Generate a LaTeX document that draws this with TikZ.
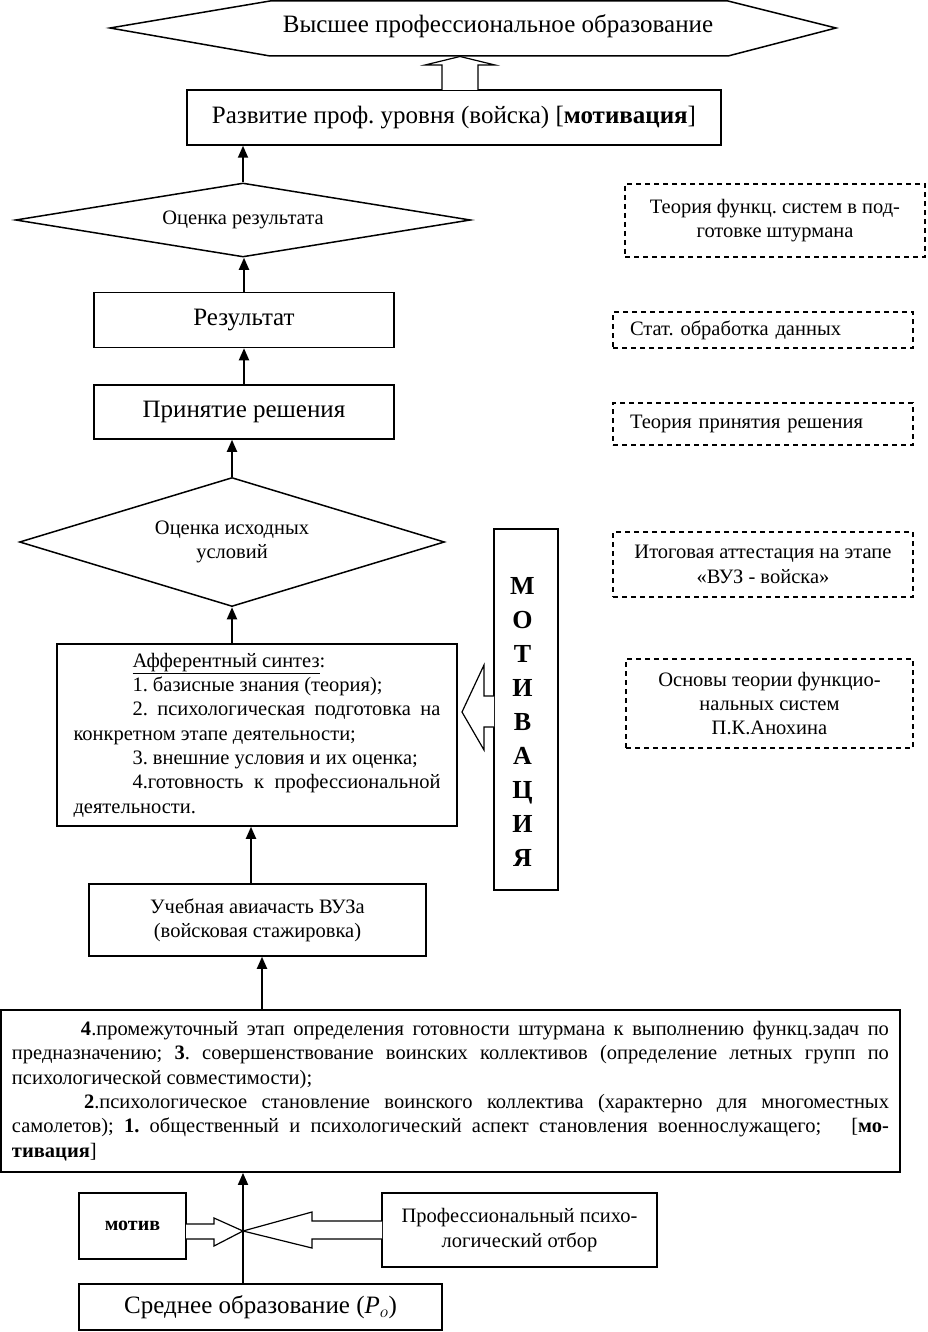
\documentclass[tikz,border=0pt]{standalone}
\usepackage{fontspec}
\setmainfont{Liberation Serif}
\usetikzlibrary{arrows.meta,shapes.geometric}
\frenchspacing
\begin{document}
\begin{tikzpicture}[x=1pt,y=-1pt,
  box/.style={draw,line width=1.5pt,inner sep=0pt,anchor=center},
  dbox/.style={draw,dash pattern=on 5pt off 4pt,line width=1.3pt,inner sep=0pt},
  dmd/.style={diamond,draw,line width=1.5pt,inner sep=0pt},
  arr/.style={line width=1.8pt,-{Triangle[length=12pt,width=10pt]}},
  hollow/.style={draw,line width=1.2pt,fill=white,line join=miter},
  bigf/.style={font=\fontsize{25}{29}\selectfont},
  midf/.style={font=\fontsize{20.5}{24.3}\selectfont},
]
\useasboundingbox (0,0) rectangle (927,1332);
% top hexagon
\draw[line width=1.5pt] (110,28) -- (270,1) -- (728,1) -- (836,28) -- (728,56) -- (270,56) -- cycle;
\node[bigf,inner sep=0pt] (hex) at (498,26) {Высшее профессиональное образование};
\node[box,bigf,minimum width=534pt,minimum height=55pt] (dev) at (454,117.5) {Развитие проф. уровня (войска) [\textbf{мотивация}]};
\draw[hollow] (442,90) -- (442,65) -- (425,65) -- (460,56.5) -- (495,65) -- (478,65) -- (478,90);
% diamonds and boxes
\node[dmd,midf,aspect=6.1,minimum width=455pt,minimum height=74pt] (d1) at (243,220) {Оценка результата};
\node[box,bigf,minimum width=300pt,minimum height=55pt] (res) at (244,320) {Результат};
\node[box,bigf,minimum width=300pt,minimum height=54pt] (prin) at (244,412) {Принятие решения};
\node[dmd,midf,align=center,aspect=3.3,minimum width=425pt,minimum height=129pt] (d2) at (232,542) {Оценка исходных\\условий};
\node[box,midf,align=left,minimum width=400pt,minimum height=182pt] (aff) at (257,735) {%
\hspace*{59pt}\underline{Афферентный синтез}:\\
\hspace*{59pt}1. базисные знания (теория);\\
\hspace*{59pt}\makebox[308pt][s]{2. психологическая подготовка на}\\
конкретном этапе деятельности;\\
\hspace*{59pt}3. внешние условия и их оценка;\\
\hspace*{59pt}\makebox[308pt][s]{4.готовность к профессиональной}\\
деятельности.};
\node[box,line width=1.8pt,minimum width=64pt,minimum height=361pt] (mot) at (526,709.5) {};
\node[font=\fontsize{26}{34.1}\selectfont\bfseries,align=center,inner sep=0pt] (motl) at (522.5,722) {М\\О\\Т\\И\\В\\А\\Ц\\И\\Я};
\draw[hollow] (494,696) -- (484,696) -- (484,665) -- (462,712) -- (484,750) -- (484,727) -- (494,727);
\node[box,midf,align=center,minimum width=337pt,minimum height=72pt] (ucheb) at (257.5,920) {Учебная авиачасть ВУЗа\\(войсковая стажировка)};
\node[box,line width=1.8pt,midf,align=left,minimum width=899pt,minimum height=162pt] (bigb) at (450.5,1091) {%
\hspace*{69pt}\makebox[808pt][s]{\textbf{4}.промежуточный этап определения готовности штурмана к выполнению функц.задач по}\\
\makebox[877pt][s]{предназначению; \textbf{3}. совершенствование воинских коллективов (определение летных групп по}\\
психологической совместимости);\\
\hspace*{72pt}\makebox[805pt][s]{\textbf{2}.психологическое становление воинского коллектива (характерно для многоместных}\\
\makebox[877pt][s]{самолетов); \textbf{1.} общественный и психологический аспект становления военнослужащего;\hspace{20pt} [\textbf{мо-}}\\
\textbf{тивация}]};
% bottom
\node[box,minimum width=107pt,minimum height=66pt,font=\fontsize{20}{22}\selectfont\bfseries] (motiv) at (132.5,1226) {мотив};
\node[box,midf,align=center,minimum width=275pt,minimum height=74pt] (prof) at (519.5,1230) {Профессиональный психо-\\логический отбор};
\node[box,bigf,minimum width=363pt,minimum height=46pt] (sred) at (260.5,1307) {Среднее образование (\textit{P}$_{o}$)};
\draw[hollow] (186,1224) -- (214,1224) -- (214,1218) -- (243,1231) -- (214,1246) -- (214,1239) -- (186,1239);
\draw[hollow] (382,1221) -- (312,1221) -- (312,1212) -- (243,1231) -- (312,1248) -- (312,1239) -- (382,1239);
% dashed boxes
\node[dbox,midf,align=center,minimum width=300pt,minimum height=73pt] (t1) at (775,220.5) {Теория функц. систем в под-\\готовке штурмана};
\node[dbox,midf,align=left,text width=266pt,inner xsep=17pt,minimum height=36pt] (t2) at (763,330) {Стат. обработка данных};
\node[dbox,midf,align=left,text width=266pt,inner xsep=17pt,minimum height=42pt] (t3) at (763,424) {Теория принятия решения};
\node[dbox,midf,align=center,minimum width=300pt,minimum height=65pt] (t4) at (763,564.5) {Итоговая аттестация на этапе\\«ВУЗ - войска»};
\node[dbox,midf,align=center,minimum width=287pt,minimum height=89pt] (t5) at (769.5,703.5) {Основы теории функцио-\\нальных систем\\П.К.Анохина};
% connectors
\coordinate (k1) at (251,0);
\coordinate (k2) at (262,0);
\coordinate (k3) at (243,0);
\draw[arr] (d1.north) -- (d1.north |- dev.south);
\draw[arr] (res.north) -- (res.north |- d1.south);
\draw[arr] (prin.north) -- (prin.north |- res.south);
\draw[arr] (d2.north) -- (d2.north |- prin.south);
\draw[arr] (aff.north -| d2.south) -- (d2.south);
\draw[arr] (ucheb.north -| k1) -- (aff.south -| k1);
\draw[arr] (bigb.north -| k2) -- (ucheb.south -| k2);
\draw[arr] (sred.north -| k3) -- (bigb.south -| k3);
\end{tikzpicture}
\end{document}
